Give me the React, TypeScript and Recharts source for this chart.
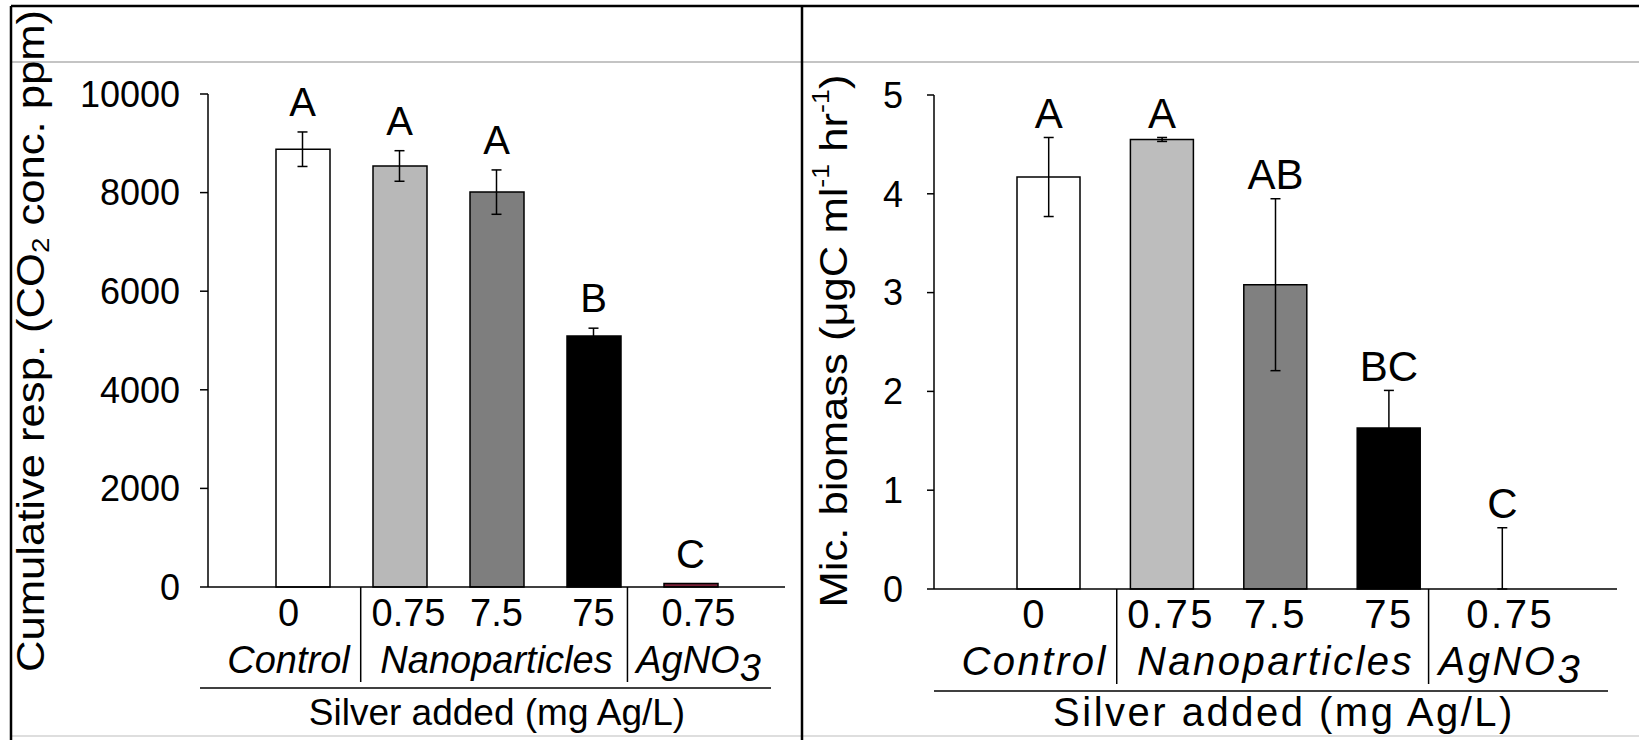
import React from 'react';
import { BarChart, Bar, XAxis, YAxis, ErrorBar, Cell, Line } from 'recharts';

const FONT = '"Liberation Sans", Arial, Helvetica, sans-serif';

// treatments, left to right
const treatments = ['control', 'np075', 'np75', 'np750', 'ag075'];
const doseLabels = ['0', '0.75', '7.5', '75', '0.75'];
const groupOf = [0, 1, 1, 1, 2];
const groupNames = ['Control', 'Nanoparticles', 'AgNO'];

// cumulative respiration (CO2 ppm)
const respMean = [8880, 8540, 8010, 5090, 70];
const respErr = [350, 310, 450, 160, null];
const respLetters = ['A', 'A', 'A', 'B', 'C'];
const respTicks = [0, 2000, 4000, 6000, 8000, 10000];

// microbial biomass (ugC ml-1 hr-1)
const bioMean = [4.17, 4.55, 3.08, 1.63, 0];
const bioErr = [0.4, 0.02, 0.87, 0.38, 0.62];
const bioLetters = ['A', 'A', 'AB', 'BC', 'C'];
const bioTicks = [0, 1, 2, 3, 4, 5];

const respFills = ['#ffffff', '#b8b8b8', '#7e7e7e', '#000000', '#7b2138'];
const bioFills = ['#ffffff', '#bdbdbd', '#808080', '#000000', '#ffffff'];

const buildRows = (means: number[], errs: (number | null)[]) =>
  treatments.map((key, i) => {
    const e = errs[i];
    return {
      key,
      mean: means[i],
      err: e == null ? null : [Math.min(e, means[i]), e],
      top: means[i] + (e ?? 0),
    };
  });

const respRows = buildRows(respMean, respErr);
const bioRows = buildRows(bioMean, bioErr);

// label nudges and separator placement (fraction of a category step after the tick)
const labelNudge = [-14, 9, 0, 0, 8];
const sepFrac: Record<number, number> = { 0: 0.6, 3: 0.35 };

interface PanelCfg {
  left: number;
  width: number;
  plotL: number;
  plotR: number;
  plotT: number;
  plotB: number;
  pad: number;
  barSize: number;
  yDomain: [number, number];
  yTicks: number[];
  tickSize: number;
  tickMargin: number;
  catFont: number;
  spacing: number;
  letterFont: number;
  letterOffset: number;
  letters: string[];
  fills: string[];
  rows: any[];
}

const Y_W = 70;
const X_H = 100;

const Panel = ({ cfg }: { cfg: PanelCfg }) => {
  const step = (cfg.plotR - cfg.plotL - 2 * cfg.pad) / treatments.length;
  const renderTick = (p: any) => {
    const { x, y, index } = p;
    const dx = labelNudge[index];
    const g = groupOf[index];
    const members = groupOf.map((v, i) => (v === g ? i : -1)).filter((i) => i >= 0);
    const mid = (members[0] + members[members.length - 1]) / 2;
    const sep = sepFrac[index];
    return (
      <g fontFamily={FONT} fill="#000">
        <text x={x + dx} y={y + 39} textAnchor="middle" fontSize={cfg.catFont} letterSpacing={cfg.spacing}>
          {doseLabels[index]}
        </text>
        {mid === index && (
          <text
            x={x + (g === 1 ? 0 : dx)}
            y={y + 86}
            textAnchor="middle"
            fontSize={cfg.catFont}
            fontStyle="italic"
            letterSpacing={cfg.spacing}
          >
            {groupNames[g]}
            {g === 2 && <tspan dy={8}>3</tspan>}
          </text>
        )}
        {sep !== undefined && (
          <line x1={x + sep * step} x2={x + sep * step} y1={y} y2={y + 95} stroke="#000" strokeWidth={1.5} />
        )}
      </g>
    );
  };

  return (
    <div style={{ position: 'absolute', left: cfg.left, top: 0 }}>
      <BarChart
        width={cfg.width}
        height={740}
        data={cfg.rows}
        margin={{
          top: cfg.plotT,
          right: cfg.width - cfg.plotR,
          bottom: 740 - cfg.plotB - X_H,
          left: cfg.plotL - Y_W,
        }}
      >
        <XAxis
          dataKey="key"
          height={X_H}
          padding={{ left: cfg.pad, right: cfg.pad }}
          axisLine={{ stroke: '#000', strokeWidth: 1.5 }}
          tickLine={false}
          tickSize={0}
          tickMargin={0}
          interval={0}
          tick={renderTick}
        />
        <XAxis
          xAxisId="top"
          orientation="top"
          dataKey="key"
          height={0}
          padding={{ left: cfg.pad, right: cfg.pad }}
          axisLine={{ stroke: '#000', strokeWidth: 1.5 }}
          tick={false}
          tickLine={false}
        />
        <YAxis
          width={Y_W}
          domain={cfg.yDomain}
          ticks={cfg.yTicks}
          interval={0}
          axisLine={{ stroke: '#000', strokeWidth: 1.5 }}
          tickLine={{ stroke: '#000', strokeWidth: 1.5 }}
          tickSize={cfg.tickSize}
          tickMargin={cfg.tickMargin}
          tick={{ fontSize: 36, fill: '#000', fontFamily: FONT }}
        />
        <YAxis
          yAxisId="right"
          orientation="right"
          width={0}
          domain={cfg.yDomain}
          axisLine={{ stroke: '#000', strokeWidth: 1.5 }}
          tick={false}
          tickLine={false}
        />
        <Bar dataKey="mean" barSize={cfg.barSize} stroke="#000" strokeWidth={1.5} isAnimationActive={false}>
          {cfg.rows.map((r, i) => (
            <Cell key={r.key} fill={cfg.fills[i]} />
          ))}
        </Bar>
        {/* whiskers drawn on an invisible series so zero-height bars still get them */}
        <Line
          dataKey="mean"
          stroke="none"
          dot={false}
          activeDot={false}
          isAnimationActive={false}
        >
          <ErrorBar dataKey="err" width={5} stroke="#000" strokeWidth={1.5} direction="y" />
        </Line>
        <Line
          xAxisId="top"
          yAxisId="right"
          dataKey="top"
          stroke="none"
          dot={false}
          activeDot={false}
          isAnimationActive={false}
          label={(p: any) => (
            <text
              key={`lt${p.index}`}
              x={p.x}
              y={p.y - cfg.letterOffset}
              textAnchor="middle"
              dominantBaseline="central"
              fontSize={cfg.letterFont}
              fontFamily={FONT}
              fill="#000"
            >
              {cfg.letters[p.index]}
            </text>
          )}
        />
      </BarChart>
    </div>
  );
};

const leftCfg: PanelCfg = {
  left: 0,
  width: 803,
  plotL: 208,
  plotR: 785,
  plotT: 94,
  plotB: 587,
  pad: 46,
  barSize: 54,
  yDomain: [0, 10000],
  yTicks: respTicks,
  tickSize: 8,
  tickMargin: 20,
  catFont: 38,
  spacing: 0,
  letterFont: 40,
  letterOffset: 30,
  letters: respLetters,
  fills: respFills,
  rows: respRows,
};

const rightCfg: PanelCfg = {
  left: 803,
  width: 836,
  plotL: 131,
  plotR: 814,
  plotT: 95,
  plotB: 589,
  pad: 58,
  barSize: 63,
  yDomain: [0, 5],
  yTicks: bioTicks,
  tickSize: 7,
  tickMargin: 24,
  catFont: 40,
  spacing: 2.5,
  letterFont: 42,
  letterOffset: 24,
  letters: bioLetters,
  fills: bioFills,
  rows: bioRows,
};

const Frame = () => (
  <svg
    width={1639}
    height={740}
    style={{ position: 'absolute', left: 0, top: 0, pointerEvents: 'none' }}
    fontFamily={FONT}
  >
    <line x1={11} x2={1639} y1={62} y2={62} stroke="#c4c4c4" strokeWidth={2} />
    <line x1={11} x2={1639} y1={736} y2={736} stroke="#dedede" strokeWidth={2} />
    <line x1={11} x2={1639} y1={6} y2={6} stroke="#000" strokeWidth={2.5} />
    <line x1={11} x2={11} y1={6} y2={740} stroke="#000" strokeWidth={2.5} />
    <line x1={802} x2={802} y1={6} y2={740} stroke="#000" strokeWidth={2.5} />

    <text
      transform="translate(31,341) rotate(-90)"
      textAnchor="middle"
      dominantBaseline="central"
      fontSize={38}
      textLength={662}
      lengthAdjust="spacingAndGlyphs"
    >
      Cumulative resp. (CO<tspan fontSize={24} dy={9}>2</tspan>
      <tspan dy={-9}> conc. ppm)</tspan>
    </text>
    <text
      transform="translate(833,341) rotate(-90)"
      textAnchor="middle"
      dominantBaseline="central"
      fontSize={39}
      textLength={533}
      lengthAdjust="spacingAndGlyphs"
    >
      Mic. biomass (μgC ml<tspan fontSize={24} dy={-13}>-1</tspan>
      <tspan dy={13}> hr</tspan>
      <tspan fontSize={24} dy={-13}>-1</tspan>
      <tspan dy={13}>)</tspan>
    </text>

    <line x1={200} x2={771} y1={688} y2={688} stroke="#000" strokeWidth={1.5} />
    <line x1={934} x2={1608} y1={691} y2={691} stroke="#000" strokeWidth={1.5} />
    <text x={497} y={725} textAnchor="middle" fontSize={37}>
      Silver added (mg Ag/L)
    </text>
    <text x={1284} y={726} textAnchor="middle" fontSize={40} letterSpacing={2.5}>
      Silver added (mg Ag/L)
    </text>
  </svg>
);

export default function App() {
  return (
    <div style={{ position: 'absolute', left: 0, top: 0, width: 1639, height: 740, background: '#fff' }}>
      <Panel cfg={leftCfg} />
      <Panel cfg={rightCfg} />
      <Frame />
    </div>
  );
}
